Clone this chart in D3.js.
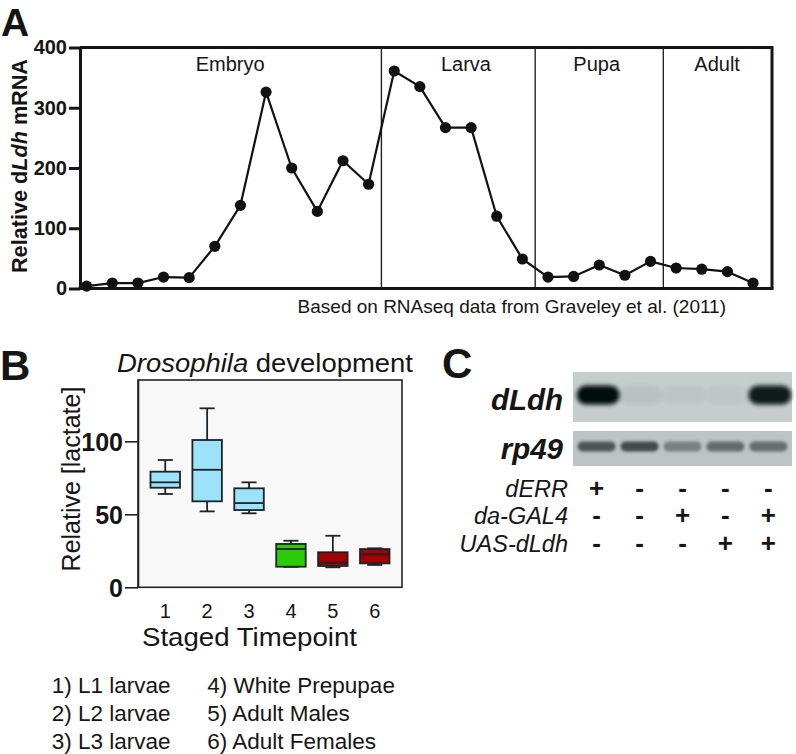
<!DOCTYPE html>
<html>
<head>
<meta charset="utf-8">
<script src="https://cdn.jsdelivr.net/npm/d3@7/dist/d3.min.js"></script>
<style>
  html, body { margin: 0; padding: 0; background: #ffffff; }
  svg { display: block; }
  text { font-family: "Liberation Sans", Arial, Helvetica, sans-serif; fill: #151515; }
</style>
</head>
<body>
<svg id="fig" width="796" height="754"></svg>
<script>
// ---------------- Panel A data ----------------
const rnaValues = [4, 9, 9, 19, 18, 70, 138, 326, 200, 128, 212, 173, 361, 335, 267, 267, 120, 49, 19, 20, 39, 22, 45, 34, 32, 28, 9];
const rnaTicks = [0, 100, 200, 300, 400];
const stageNames = ["Embryo", "Larva", "Pupa", "Adult"];
const stageDividers = [11.5, 17.5, 22.5];
const stageLabelAt = [5.6, 14.8, 19.9, 24.6];
const rnaCaption = "Based on RNAseq data from Graveley et al. (2011)";

// ---------------- Panel B data ----------------
const timepoints = [1, 2, 3, 4, 5, 6];
const timepointGroup = ["larva", "larva", "larva", "prepupa", "adult", "adult"];
const lactateMin = [63.9, 52.0, 50.7, 14.0, 13.7, 15.3];
const lactateQ1 = [68.2, 58.9, 52.9, 14.1, 14.6, 16.4];
const lactateMedian = [71.9, 80.5, 57.7, 26.2, 16.8, 22.6];
const lactateQ3 = [79.2, 100.9, 67.8, 29.7, 24.0, 26.2];
const lactateMax = [87.2, 122.6, 71.9, 31.9, 35.3, 26.7];
const lactateTicks = [0, 50, 100];
const timepointLegend = ["1) L1 larvae", "2) L2 larvae", "3) L3 larvae", "4) White Prepupae", "5) Adult Males", "6) Adult Females"];

// ---------------- Panel C data ----------------
const lanes = [1, 2, 3, 4, 5];
const dLdhSignal = [1.0, 0.06, 0.04, 0.03, 0.92];
const rp49Signal = [0.75, 0.82, 0.45, 0.6, 0.58];
const genotypeRows = ["dERR", "da-GAL4", "UAS-dLdh"];
const dERR = ["+", "-", "-", "-", "-"];
const daGAL4 = ["-", "-", "+", "-", "+"];
const uasDLdh = ["-", "-", "-", "+", "+"];

const svg = d3.select("#fig");
const defs = svg.append("defs");
defs.append("filter").attr("id", "blurStrong").attr("x", "-30%").attr("y", "-60%").attr("width", "160%").attr("height", "220%")
  .append("feGaussianBlur").attr("stdDeviation", 2.2);
defs.append("filter").attr("id", "blurSoft").attr("x", "-30%").attr("y", "-80%").attr("width", "160%").attr("height", "260%")
  .append("feGaussianBlur").attr("stdDeviation", 1.8);

// ================= Panel A =================
const A = { left: 80, right: 772, top: 47.5, bottom: 288.5 };
const xA = d3.scaleLinear().domain([-0.26, 26.74]).range([A.left, A.right]);
const yA = d3.scaleLinear().domain([0, 400]).range([A.bottom, A.top]);
const gA = svg.append("g");

gA.append("text").attr("x", 1).attr("y", 35.5).style("font-size", "39px").style("font-weight", "bold").text("A");

// frame (top/right)
gA.append("path")
  .attr("d", `M${A.left},${A.top}H${A.right}V${A.bottom}`)
  .attr("fill", "none").attr("stroke", "#151515").attr("stroke-width", 3);

// stage dividers
gA.selectAll("line.div").data(stageDividers).enter().append("line")
  .attr("x1", d => xA(d)).attr("x2", d => xA(d))
  .attr("y1", A.top).attr("y2", A.bottom)
  .attr("stroke", "#222").attr("stroke-width", 1.4);

gA.selectAll("text.stage").data(stageNames).enter().append("text")
  .attr("x", (d, i) => xA(stageLabelAt[i])).attr("y", 71)
  .attr("text-anchor", "middle").style("font-size", "20px").text(d => d);

// axes
const axA = gA.append("g").attr("transform", `translate(${A.left},0)`)
  .call(d3.axisLeft(yA).tickValues(rnaTicks).tickSize(11).tickSizeOuter(0).tickPadding(2));
axA.select(".domain").attr("stroke", "#151515").attr("stroke-width", 3);
axA.selectAll(".tick line").attr("stroke", "#151515").attr("stroke-width", 3);
axA.selectAll(".tick text").style("font-size", "20px").style("font-weight", "bold")
  .style("font-family", "'Liberation Sans', Arial, sans-serif").attr("fill", "#151515");

gA.append("line").attr("x1", A.left - 1.5).attr("x2", A.right + 1.5).attr("y1", A.bottom).attr("y2", A.bottom)
  .attr("stroke", "#151515").attr("stroke-width", 3);

const yTitleA = gA.append("text").attr("transform", `translate(27,166) rotate(-90)`)
  .attr("text-anchor", "middle").style("font-size", "21.5px").style("font-weight", "bold")
  .attr("textLength", 214).attr("lengthAdjust", "spacingAndGlyphs");
yTitleA.append("tspan").text("Relative d");
yTitleA.append("tspan").style("font-style", "italic").text("Ldh");
yTitleA.append("tspan").text(" mRNA");

// line + markers
const lineA = d3.line().x((d, i) => xA(i)).y(d => yA(d));
gA.append("path").datum(rnaValues).attr("d", lineA)
  .attr("fill", "none").attr("stroke", "#111").attr("stroke-width", 2.2).attr("stroke-linejoin", "round");
gA.selectAll("circle.pt").data(rnaValues).enter().append("circle")
  .attr("cx", (d, i) => xA(i)).attr("cy", d => yA(d)).attr("r", 5.6).attr("fill", "#111");

gA.append("text").attr("x", 726).attr("y", 313).attr("text-anchor", "end")
  .style("font-size", "19px").attr("fill", "#222").text(rnaCaption);

// ================= Panel B =================
const B = { left: 138, right: 402, top: 380, bottom: 587.3 };
const xB = d3.scaleLinear().domain([0.35, 6.65]).range([B.left, B.right]);
const yB = d3.scaleLinear().domain([0, 142]).range([B.bottom, B.top]);
const colorB = d3.scaleOrdinal().domain(["larva", "prepupa", "adult"]).range(["#9be2fa", "#2ccb08", "#a30000"]);
const gB = svg.append("g");

gB.append("text").attr("x", 0).attr("y", 380).style("font-size", "42px").style("font-weight", "bold").text("B");

const titleB = gB.append("text").attr("x", 265).attr("y", 372).attr("text-anchor", "middle")
  .style("font-size", "25px").attr("textLength", 296).attr("lengthAdjust", "spacingAndGlyphs");
titleB.append("tspan").style("font-style", "italic").text("Drosophila");
titleB.append("tspan").text(" development");

gB.append("rect").attr("x", B.left).attr("y", B.top).attr("width", B.right - B.left).attr("height", B.bottom - B.top)
  .attr("fill", "#f8f8f8").attr("stroke", "#222").attr("stroke-width", 1.6);

const axB = gB.append("g").attr("transform", `translate(${B.left},0)`)
  .call(d3.axisLeft(yB).tickValues(lactateTicks).tickSize(13).tickSizeOuter(0).tickPadding(2));
axB.select(".domain").attr("stroke", "#222").attr("stroke-width", 1.6);
axB.selectAll(".tick line").attr("stroke", "#222").attr("stroke-width", 1.6);
axB.selectAll(".tick text").style("font-size", "25px").style("font-weight", "bold")
  .style("font-family", "'Liberation Sans', Arial, sans-serif").attr("fill", "#151515").attr("dy", "0.36em");

gB.append("text").attr("transform", `translate(80,479) rotate(-90)`).attr("text-anchor", "middle")
  .style("font-size", "25px").text("Relative [lactate]");

const boxW = 29.5, capW = 15;
const boxes = gB.selectAll("g.box").data(timepoints).enter().append("g").attr("class", "box");
boxes.append("line").attr("x1", d => xB(d)).attr("x2", d => xB(d))
  .attr("y1", (d, i) => yB(lactateMax[i])).attr("y2", (d, i) => yB(lactateMin[i]))
  .attr("stroke", "#1c2326").attr("stroke-width", 1.8);
boxes.append("line").attr("x1", d => xB(d) - capW / 2).attr("x2", d => xB(d) + capW / 2)
  .attr("y1", (d, i) => yB(lactateMax[i])).attr("y2", (d, i) => yB(lactateMax[i]))
  .attr("stroke", "#1c2326").attr("stroke-width", 1.8);
boxes.append("line").attr("x1", d => xB(d) - capW / 2).attr("x2", d => xB(d) + capW / 2)
  .attr("y1", (d, i) => yB(lactateMin[i])).attr("y2", (d, i) => yB(lactateMin[i]))
  .attr("stroke", "#1c2326").attr("stroke-width", 1.8);
boxes.append("rect").attr("x", d => xB(d) - boxW / 2).attr("width", boxW)
  .attr("y", (d, i) => yB(lactateQ3[i])).attr("height", (d, i) => yB(lactateQ1[i]) - yB(lactateQ3[i]))
  .attr("fill", (d, i) => colorB(timepointGroup[i])).attr("stroke", "#1c2326").attr("stroke-width", 1.8);
boxes.append("line").attr("x1", d => xB(d) - boxW / 2).attr("x2", d => xB(d) + boxW / 2)
  .attr("y1", (d, i) => yB(lactateMedian[i])).attr("y2", (d, i) => yB(lactateMedian[i]))
  .attr("stroke", "#1c2326").attr("stroke-width", 1.8);

gB.selectAll("text.xt").data(timepoints).enter().append("text")
  .attr("x", d => xB(d)).attr("y", 618).attr("text-anchor", "middle").style("font-size", "20px").text(d => d);

gB.append("text").attr("x", 249.5).attr("y", 646).attr("text-anchor", "middle")
  .style("font-size", "25px").attr("textLength", 215).attr("lengthAdjust", "spacingAndGlyphs").text("Staged Timepoint");

gB.selectAll("text.leg").data(timepointLegend).enter().append("text")
  .attr("x", (d, i) => i < 3 ? 51.7 : 207.3)
  .attr("y", (d, i) => 693 + (i % 3) * 28)
  .style("font-size", "22.5px").text(d => d);

// ================= Panel C =================
const xC = d3.scaleLinear().domain([0.45, 5.55]).range([573, 792]);
const gC = svg.append("g");
gC.append("text").attr("x", 442).attr("y", 378).style("font-size", "42px").style("font-weight", "bold").text("C");

const blotRows = [
  { name: "dLdh", y0: 372, y1: 422, signal: dLdhSignal, bandH: 19, bandW: 43, base: "#c6cdcd", baseline: 410 },
  { name: "rp49", y0: 431, y1: 466, signal: rp49Signal, bandH: 10, bandW: 38, base: "#bcc4c4", baseline: 458.5 }
];
blotRows.forEach((row, r) => {
  const g = gC.append("g");
  g.append("rect").attr("x", xC(0.45)).attr("y", row.y0).attr("width", xC(5.55) - xC(0.45)).attr("height", row.y1 - row.y0)
    .attr("fill", row.base);
  const cy = r === 0 ? 395 : 446.5;
  g.selectAll("rect.band").data(lanes).enter().append("rect")
    .attr("x", d => xC(d) - row.bandW / 2 + (r === 0 ? 1.5 : 0))
    .attr("y", cy - row.bandH / 2).attr("width", row.bandW).attr("height", row.bandH)
    .attr("rx", row.bandH / 2)
    .attr("fill", r === 0 ? "#050808" : "#263030")
    .attr("opacity", (d, i) => row.signal[i])
    .attr("filter", r === 0 ? "url(#blurStrong)" : "url(#blurSoft)");
  g.append("text").attr("x", 563).attr("y", row.baseline).attr("text-anchor", "end")
    .style("font-size", "29.5px").style("font-weight", "bold").style("font-style", "italic").text(row.name);
});

const genotypeValues = [dERR, daGAL4, uasDLdh];
genotypeRows.forEach((name, r) => {
  const yb = 496.5 + r * 27.5;
  gC.append("text").attr("x", 568).attr("y", yb).attr("text-anchor", "end")
    .style("font-size", "23.5px").style("font-style", "italic").text(name);
  gC.selectAll(null).data(genotypeValues[r]).enter().append("text")
    .attr("x", (d, i) => xC(lanes[i])).attr("y", yb).attr("text-anchor", "middle")
    .style("font-size", "26px").style("font-weight", "bold").text(d => d);
});
</script>
</body>
</html>
